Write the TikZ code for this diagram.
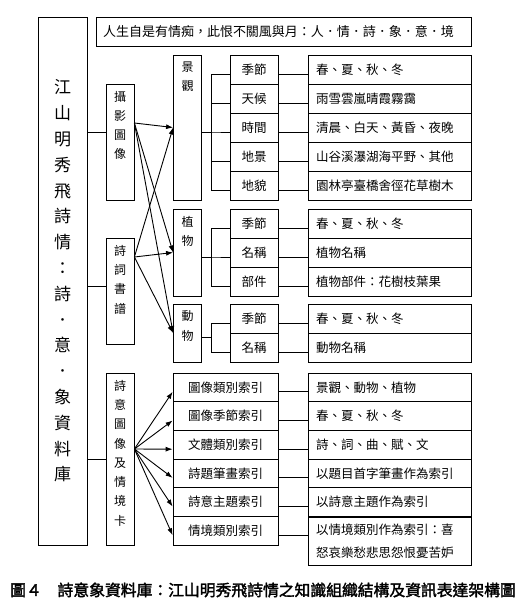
\documentclass[tikz,border=0pt]{standalone}
\usepackage{fontspec}
\setmainfont{Noto Sans CJK TC}[AutoFakeBold=2]
\usetikzlibrary{arrows.meta}

% vertical column of characters, top aligned in a box of given height
\newcommand\colchars[2]{\parbox[c][#1pt][t]{20pt}{\centering\vspace*{7pt}#2}}

\begin{document}
\begin{tikzpicture}[x=1pt, y=-1pt,
    box/.style={draw, line width=0.8pt, inner sep=0pt},
    vbox/.style={box, minimum width=28pt, font=\fontsize{12}{19.3}\selectfont},
    sub/.style={box, minimum width=48pt, minimum height=29pt, font=\fontsize{12.5}{15}\selectfont},
    idx/.style={sub, minimum width=105pt, minimum height=28.67pt},
    leaf/.style={box, minimum width=163pt, minimum height=29pt, text width=147pt, align=left, font=\fontsize{12.5}{23}\selectfont},
    link/.style={line width=0.9pt},
    arr/.style={line width=0.9pt, -{Latex[length=7pt,width=5pt]}}]
    \useasboundingbox (0,0) rectangle (523,614);
    \def\dy{-4.5pt}

    % Title column and motto
    \node[box, minimum width=49pt, minimum height=528pt, align=center,
          font=\fontsize{17}{25.8}\selectfont] (main) at (62.5,281)
        {江\\山\\明\\秀\\飛\\詩\\情\\：\\詩\\．\\意\\．\\象\\資\\料\\庫};
    \node[box, minimum width=375pt, minimum height=29pt, text width=361pt, align=left,
          font=\fontsize{13}{15}\selectfont] (motto) at (283.5,31.5)
        {人生自是有情痴，此恨不關風與月：人．情．詩．象．意．境};

    % Sources
    \node[vbox] (photo) at (120,142) {\colchars{116}{攝\\影\\圖\\像}};
    \node[vbox] (poem) at (120,291) {\colchars{106}{詩\\詞\\書\\譜}};
    \node[vbox] (card) at (120,459) {\colchars{172}{詩\\意\\圖\\像\\及\\情\\境\\卡}};

    \coordinate (photoin) at ([yshift=10pt]photo.west);
    \coordinate (poemin) at ([yshift=5pt]poem.west);
    \draw[link] (main.east |- photoin) -- (photoin);
    \draw[link] (main.east |- poemin) -- (poemin);
    \draw[link] (main.east |- card.west) -- (card.west);

    % Scene group
    \node[vbox] (scene) at (187.5,127.5) {\colchars{145}{景\\觀}};
    \foreach \t [count=\i] in {季節,天候,時間,地景,地貌}{
        \node[sub] (sc\i) at (254,{40.5+29*\i}) {\t};
    }
    \foreach \t [count=\i] in {春、夏、秋、冬,雨雪雲嵐晴霞霧靄,清晨、白天、黃昏、夜晚,山谷溪瀑湖海平野、其他,園林亭臺橋舍徑花草樹木}{
        \node[leaf] (scr\i) at (389.5,{40.5+29*\i}) {\t};
    }
    \foreach \i in {1,...,5}{
        \draw[link] ([yshift=\dy]scene.east) -- ++(10pt,0) |- ([yshift=\dy]sc\i.west);
        \draw[link] ([yshift=\dy]sc\i.east) -- ([yshift=\dy]scr\i.west);
    }

    % Plant group
    \node[vbox] (plant) at (187.5,252.5) {\colchars{87}{植\\物}};
    \foreach \t [count=\i] in {季節,名稱,部件}{
        \node[sub] (pl\i) at (254,{194.5+29*\i}) {\t};
    }
    \foreach \t [count=\i] in {春、夏、秋、冬,植物名稱,植物部件：花樹枝葉果}{
        \node[leaf] (plr\i) at (389.5,{194.5+29*\i}) {\t};
    }
    \foreach \i in {1,...,3}{
        \draw[link] ([yshift=\dy]plant.east) -- ++(10pt,0) |- ([yshift=\dy]pl\i.west);
        \draw[link] ([yshift=\dy]pl\i.east) -- ([yshift=\dy]plr\i.west);
    }

    % Animal group
    \node[vbox] (animal) at (187.5,333) {\colchars{58}{動\\物}};
    \foreach \t [count=\i] in {季節,名稱}{
        \node[sub] (an\i) at (254,{289.5+29*\i}) {\t};
    }
    \foreach \t [count=\i] in {春、夏、秋、冬,動物名稱}{
        \node[leaf] (anr\i) at (389.5,{289.5+29*\i}) {\t};
    }
    \foreach \i in {1,2}{
        \draw[link] ([yshift=\dy]animal.east) -- ++(10pt,0) |- ([yshift=\dy]an\i.west);
        \draw[link] ([yshift=\dy]an\i.east) -- ([yshift=\dy]anr\i.west);
    }

    % Index group
    \foreach \t [count=\i] in {圖像類別索引,圖像季節索引,文體類別索引,詩題筆畫索引,詩意主題索引,情境類別索引}{
        \node[idx] (ix\i) at (225.5,{358.67+28.67*\i}) {\t};
    }
    \foreach \t [count=\i] in {景觀、動物、植物,春、夏、秋、冬,詩、詞、曲、賦、文,以題目首字筆畫作為索引,以詩意主題作為索引}{
        \node[leaf, minimum height=28.67pt] (ixr\i) at (389.5,{358.67+28.67*\i}) {\t};
    }
    \node[leaf, minimum height=48pt] (ixr6) at (389.5,541)
        {以情境類別作為索引：喜\\怒哀樂愁悲思怨恨憂苦妒};
    \foreach \i in {1,...,6}{
        \draw[link] ([yshift=\dy]ix\i.east) coordinate (p) -- (p -| ixr\i.west);
    }

    % Arrows
    \coordinate (photoout) at ([yshift=19pt]photo.east);
    \coordinate (poemout) at ([yshift=34pt]poem.east);
    \coordinate (cardout) at ([yshift=10pt]card.east);
    \foreach \n in {scene,plant,animal}{
        \draw[arr] (photoout) -- (\n.west);
        \draw[arr] (poemout) -- (\n.west);
    }
    \foreach \i in {1,...,6}{
        \draw[arr] (cardout) -- ([yshift=\dy]ix\i.west);
    }

    % Caption
    \node[font=\fontsize{15.8}{18}\selectfont\bfseries] (caption) at (263,590)
        {圖４　詩意象資料庫：江山明秀飛詩情之知識組織結構及資訊表達架構圖};
\end{tikzpicture}
\end{document}
